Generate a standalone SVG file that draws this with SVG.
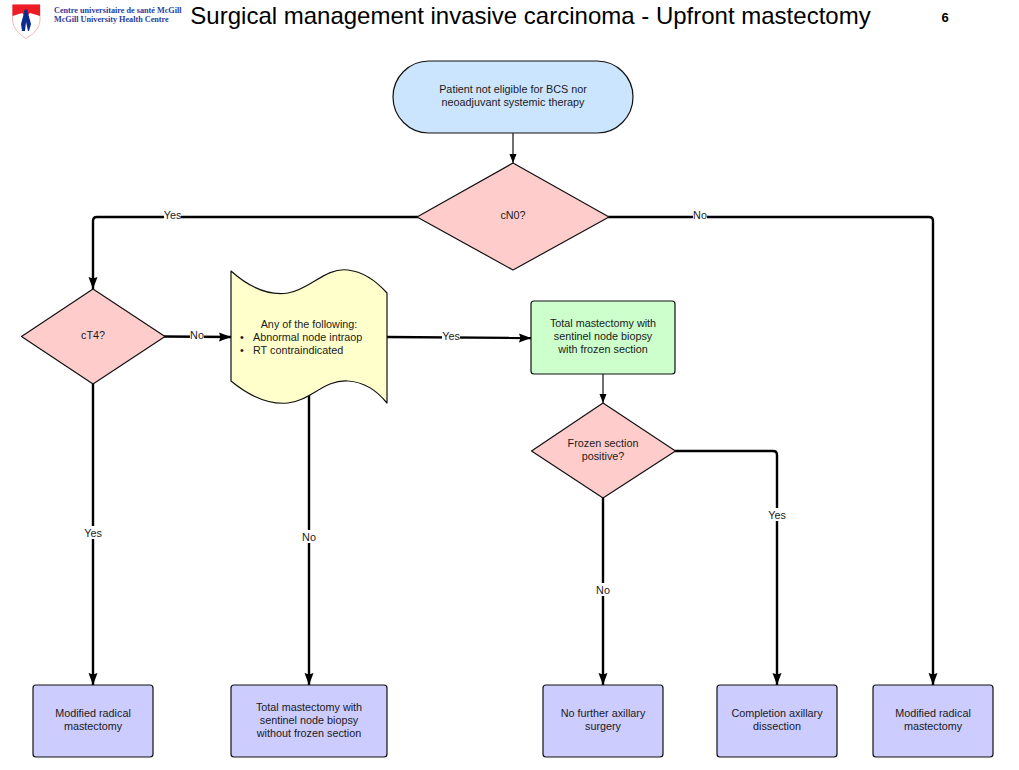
<svg xmlns="http://www.w3.org/2000/svg" width="1019" height="770" viewBox="0 0 1019 770">
<style>
text{font-family:"Liberation Sans",Arial,sans-serif;font-size:10.800px;fill:#1a1a1a;text-anchor:middle}
.n{stroke:#111;stroke-width:1.2;stroke-linejoin:round}
.d{fill:#ffcccc}.b{fill:#ccccff}
.c{fill:none;stroke:#000;stroke-width:2.400;stroke-linejoin:round}
.t{stroke-width:1.400;stroke:#333}
.l{fill:#fff;stroke:none}
.g{font-family:"Liberation Serif",serif;font-size:8.200px;font-weight:bold;fill:#2b3c9e;text-anchor:start}
</style>
<defs>
<marker id="a" markerUnits="userSpaceOnUse" markerWidth="13" markerHeight="10" refX="12" refY="4.500" orient="auto"><path d="M0 0L12 4.500L0 9L1.500 4.500z" fill="#000"/></marker>
<marker id="s" markerUnits="userSpaceOnUse" markerWidth="10" markerHeight="8" refX="9" refY="3.500" orient="auto"><path d="M0 0L9 3.500L0 7z" fill="#000"/></marker>
</defs>
<rect width="1019" height="770" fill="#fff"/>
<g id="logo">
<path d="M12.500 5H40V21Q39 31 26 38.500Q13.500 31 12.500 21z" fill="#fff" stroke="#f2a6a6" stroke-width="0.800"/>
<path d="M12.500 4.500H40V16L30 13L26 17L22 13L12.500 16z" fill="#ee1c25"/>
<path d="M26 9.500a2 2 0 1 1-.01 0zM24 13L28 13L31 24L29 31H28L26 22L25 31H22L21 24z" fill="#0a2a8c"/>
<text class="g" x="54" y="12.500">Centre universitaire de santé McGill</text>
<text class="g" x="54" y="22">McGill University Health Centre</text>
</g>
<g id="title">
<text x="530.500" y="24" style="font-size:24px;fill:#000">Surgical management invasive carcinoma - Upfront mastectomy</text>
<text x="945" y="22" style="font-size:13px;font-weight:bold;fill:#000">6</text>
</g>
<g id="connectors">
<path class="c t" d="M513 133V163" marker-end="url(#s)"/>
<path class="c" d="M418 217H97Q93 217 93 221V289" marker-end="url(#a)"/>
<path class="c" d="M608 217H929Q933 217 933 221V685" marker-end="url(#a)"/>
<path class="c" d="M164 336.500L231 337" marker-end="url(#a)"/>
<path class="c" d="M93 384V685" marker-end="url(#a)"/>
<path class="c" d="M309 392V685" marker-end="url(#a)"/>
<path class="c" d="M387 337L531 338" marker-end="url(#a)"/>
<path class="c t" d="M603 374V403" marker-end="url(#s)"/>
<path class="c" d="M603 498V685" marker-end="url(#a)"/>
<path class="c" d="M675 451H773Q777 451 777 455V685" marker-end="url(#a)"/>
<g id="connector-labels">
<rect class="l" x="164" y="209" width="17" height="13"/><text x="172.500" y="219">Yes</text>
<rect class="l" x="693" y="209" width="14" height="13"/><text x="700" y="219">No</text>
<rect class="l" x="190" y="329" width="14" height="13"/><text x="197" y="339">No</text>
<rect class="l" x="442" y="330" width="18" height="13"/><text x="451" y="340">Yes</text>
<rect class="l" x="84" y="526" width="18" height="13"/><text x="93" y="537">Yes</text>
<rect class="l" x="302" y="530" width="14" height="13"/><text x="309" y="541">No</text>
<rect class="l" x="596" y="583" width="14" height="13"/><text x="603" y="594">No</text>
<rect class="l" x="768" y="508" width="18" height="13"/><text x="777" y="519">Yes</text>
</g>
</g>
<g id="start"><rect class="n" x="393" y="61" width="240" height="72" rx="36" ry="36" fill="#cce5ff"/><text x="513" y="93">Patient not eligible for BCS nor</text><text x="513" y="106">neoadjuvant systemic therapy</text></g>
<g id="cn0"><path class="n d" d="M513 163L609 217L513 270L417 217z"/><text x="513" y="219">cN0?</text></g>
<g id="ct4"><path class="n d" d="M93 289L165 336.500L93 384L21.500 336.500z"/><text x="93" y="339">cT4?</text></g>
<g id="any"><path class="n" d="M231 271C250 288 268 296 288 293C310 290 325 267 348 270C365 272 378 283 387 293V403C378 392 365 382 348 381C325 379 310 401 288 403C268 405 248 395 231 381z" fill="#ffffcc"/><text x="309" y="328">Any of the following:</text><text x="240" y="341" style="text-anchor:start">•</text><text x="253" y="341" style="text-anchor:start">Abnormal node intraop</text><text x="240" y="354" style="text-anchor:start">•</text><text x="253" y="354" style="text-anchor:start">RT contraindicated</text></g>
<g id="tm-frozen"><rect class="n" x="531" y="301" width="144" height="73" rx="3" fill="#ccffcc"/><text x="603" y="327">Total mastectomy with</text><text x="603" y="340">sentinel node biopsy</text><text x="603" y="353">with frozen section</text></g>
<g id="frozen"><path class="n d" d="M603 403L675.500 451L603 498L531.500 451z"/><text x="603" y="447">Frozen section</text><text x="603" y="460">positive?</text></g>
<g id="mrm1"><rect class="n b" x="33" y="685" width="120" height="72" rx="3"/><text x="93" y="717">Modified radical</text><text x="93" y="730">mastectomy</text></g>
<g id="tm-nofrozen"><rect class="n b" x="231" y="685" width="156" height="72" rx="3"/><text x="309" y="711">Total mastectomy with</text><text x="309" y="724">sentinel node biopsy</text><text x="309" y="737">without frozen section</text></g>
<g id="nofurther"><rect class="n b" x="543" y="685" width="120" height="72" rx="3"/><text x="603" y="717">No further axillary</text><text x="603" y="730">surgery</text></g>
<g id="completion"><rect class="n b" x="717" y="685" width="120" height="72" rx="3"/><text x="777" y="717">Completion axillary</text><text x="777" y="730">dissection</text></g>
<g id="mrm2"><rect class="n b" x="873" y="685" width="120" height="72" rx="3"/><text x="933" y="717">Modified radical</text><text x="933" y="730">mastectomy</text></g>
</svg>
